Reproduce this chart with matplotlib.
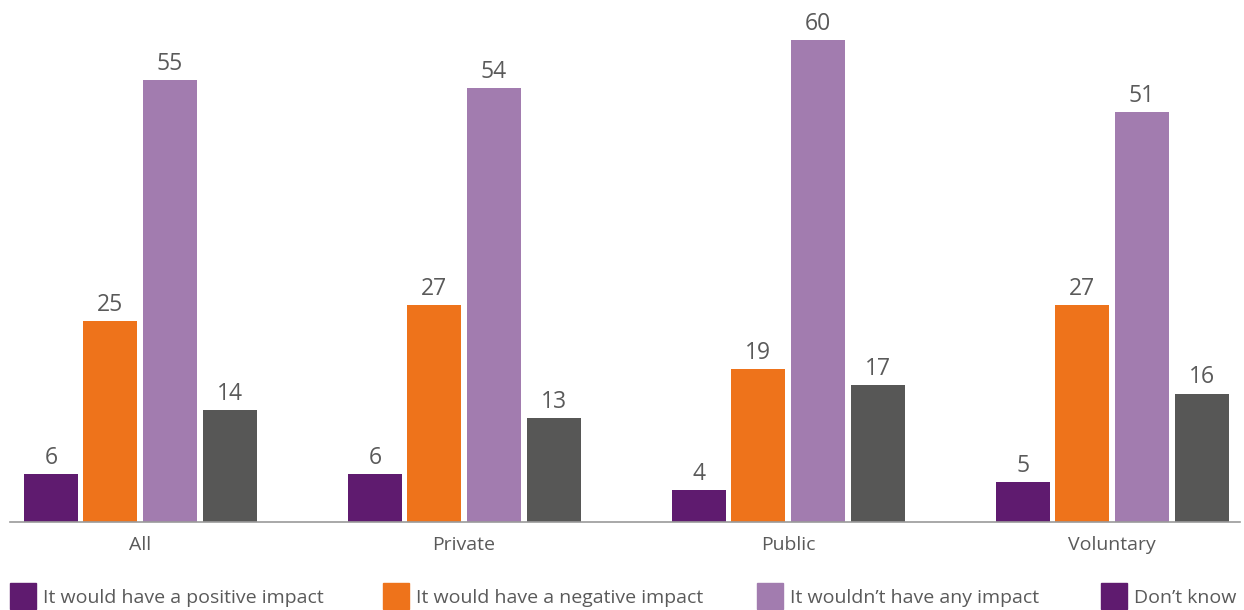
import matplotlib
matplotlib.use("Agg")
import matplotlib.pyplot as plt
from matplotlib.patches import Rectangle
import numpy as np

categories = ["All", "Private", "Public", "Voluntary"]
series_names = [
    "It would have a positive impact",
    "It would have a negative impact",
    "It wouldn\u2019t have any impact",
    "Don\u2019t know",
]
positive = [6, 6, 4, 5]
negative = [25, 27, 19, 27]
no_impact = [55, 54, 60, 51]
dont_know = [14, 13, 17, 16]

colors = ["#5F1B6F", "#EE731B", "#A27CAF", "#575756"]
legend_colors = ["#5F1B6F", "#EE731B", "#A27CAF", "#5F1B6F"]
text_color = "#5a5a5a"

plt.rcParams["font.family"] = ["Open Sans", "DejaVu Sans"]

fig = plt.figure(figsize=(12.44, 6.10), dpi=100)
ax = fig.add_axes([10 / 1244, 88 / 610, 1230 / 1244, 522 / 610])

x = np.arange(len(categories))
offsets = [-0.275, -0.0915, 0.0915, 0.277]
width = 0.167
for vals, off, c in zip([positive, negative, no_impact, dont_know], offsets, colors):
    bars = ax.bar(x + off, vals, width=width, color=c, zorder=2)
    for b, v in zip(bars, vals):
        ax.text(b.get_x() + b.get_width() / 2, v + 0.5, str(v),
                ha="center", va="bottom", fontsize=16.5, color=text_color)

ax.set_xlim(-0.401, 3.395)
ax.set_ylim(0, 65)
for s in ["top", "right", "left"]:
    ax.spines[s].set_visible(False)
ax.spines["bottom"].set_color("#9a9a9a")
ax.spines["bottom"].set_linewidth(1.2)
ax.set_yticks([])
ax.set_xticks(x)
ax.set_xticklabels(categories, fontsize=14, color=text_color)
ax.tick_params(axis="x", length=0, pad=10)

# legend row along the bottom edge
legend_x = [10, 383, 757, 1101]
for lx, name, c in zip(legend_x, series_names, legend_colors):
    fig.patches.append(Rectangle((lx / 1244, 1 / 610), 26 / 1244, 26 / 610,
                                 transform=fig.transFigure, color=c))
    fig.text((lx + 33) / 1244, 12 / 610, name, ha="left", va="center",
             fontsize=14, color=text_color)

fig.savefig("out.png", dpi=100)
